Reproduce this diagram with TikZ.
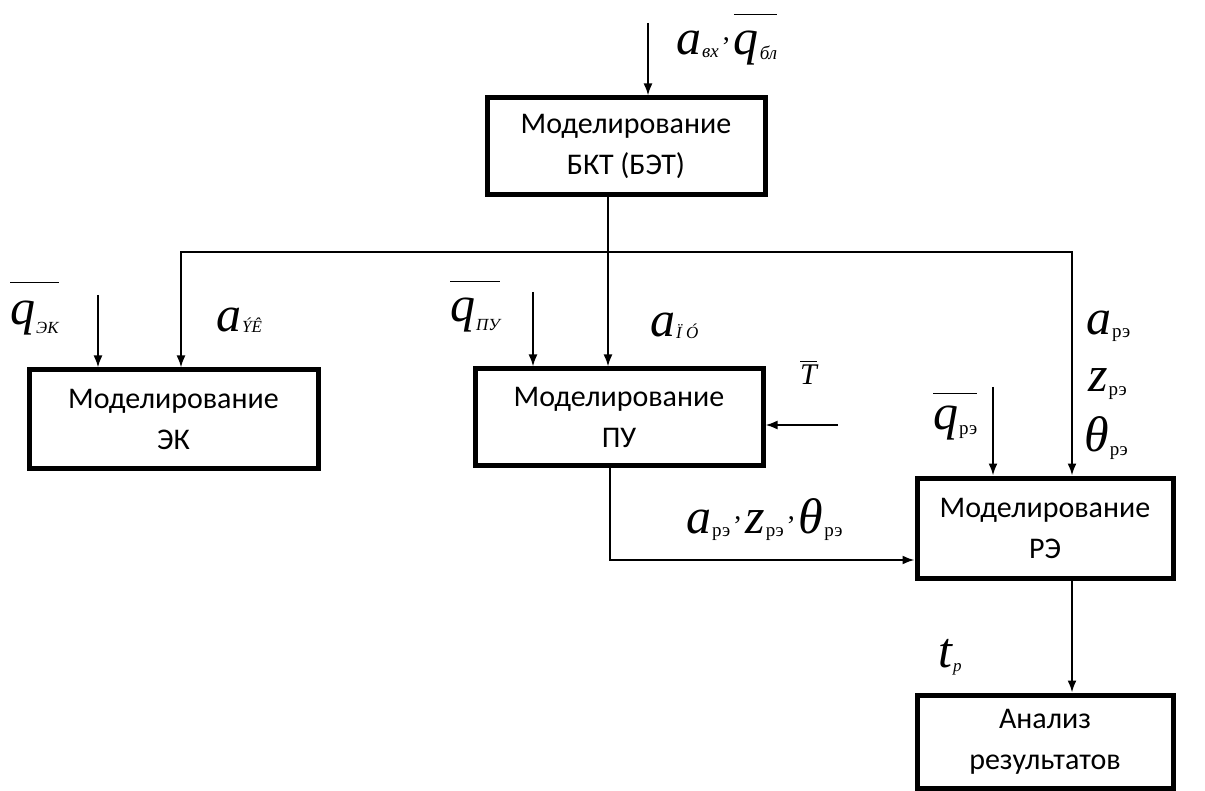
\documentclass[tikz,border=0pt]{standalone}
\usepackage{fontspec}
\setmainfont{Carlito}
\newfontfamily\tnr{Liberation Serif}
\usetikzlibrary{arrows.meta,calc}
\newcommand\mybar[2]{\setbox0=\hbox{#2}\rlap{\raisebox{#1}{\rule{\wd0}{1.1pt}}}\box0}
\newcommand\Mn[1]{{\fontsize{50}{50}\selectfont\tnr\itshape #1}}
\newcommand\Sb[3]{\hspace{1pt}\raisebox{-#1}{\fontsize{#2}{#2}\selectfont\tnr #3}}
\newcommand\Cm{\hspace{4pt}\raisebox{14pt}{\fontsize{28}{28}\selectfont\tnr ,}\hspace{4pt}}
\tikzset{
  box/.style={draw, line width=5pt, align=center, inner sep=0pt,
    font=\fontsize{30}{41}\selectfont},
  arr/.style={line width=2pt, -{Latex[length=12pt,width=9pt]}},
  ln/.style={line width=2pt},
  lbl/.style={inner sep=0pt, anchor=base west}
}
\begin{document}
\begin{tikzpicture}[x=1pt,y=-1pt]
\useasboundingbox[fill=white] (0,0) rectangle (1205,791);
% boxes
\node[box, minimum width=278pt, minimum height=97pt] (bkt) at (626,146.5) {Моделирование\\БКТ (БЭТ)};
\node[box, minimum width=289pt, minimum height=98pt] (ek) at (173.5,419) {Моделирование\\ЭК};
\node[box, minimum width=288pt, minimum height=96pt] (pu) at (619,417) {Моделирование\\ПУ};
\node[box, minimum width=256pt, minimum height=100pt] (re) at (1045,528) {Моделирование\\РЭ};
\node[box, minimum width=256pt, minimum height=93pt] (an) at (1045,741.5) {Анализ\\результатов};
% coordinates
\coordinate (intop) at (648,23);
\coordinate (j1) at (608,252);
\coordinate (hl) at (181,252);
\coordinate (hr) at (1072,252);
\coordinate (qek) at (98,295);
\coordinate (qpu) at (533,292);
\coordinate (qre) at (993,387);
\coordinate (tin) at (838,425);
\coordinate (pd) at (610,560);
% connectors
\draw[arr] (intop) -- (intop |- bkt.north);
\draw[arr] (j1 |- bkt.south) -- (j1 |- pu.north);
\draw[ln,{Latex[length=12pt,width=9pt]}-{Latex[length=12pt,width=9pt]}] (hl |- ek.north) -- (hl) -- (hr) -- (hr |- re.north);
\draw[arr] (qek) -- (qek |- ek.north);
\draw[arr] (qpu) -- (qpu |- pu.north);
\draw[arr] (qre) -- (qre |- re.north);
\draw[arr] (tin) -- (tin -| pu.east);
\draw[arr] (pd |- pu.south) -- (pd) -- (pd -| re.west);
\draw[arr] (hr |- re.south) -- (hr |- an.north);
% labels
\node[lbl] (lin) at (676,55) {\Mn{a}\Sb{3pt}{19}{\itshape вх}\Cm\mybar{40pt}{\Mn{q}\Sb{5pt}{19}{\itshape бл}}};
\node[lbl] (lqek) at (10,325) {\mybar{42pt}{\Mn{q}\Sb{9pt}{17}{\itshape ЭК}}};
\node[lbl] (laek) at (216,332) {\Mn{a}\Sb{1pt}{17}{\itshape ÝÊ}};
\node[lbl] (lqpu) at (450,322) {\mybar{40pt}{\Mn{q}\Sb{9pt}{17}{\itshape ПУ}}};
\node[lbl] (lapu) at (650,337) {\Mn{a}\Sb{2pt}{17}{\itshape Ï Ó}};
\node[lbl] (lt) at (800,385) {\mybar{23pt}{\fontsize{30}{30}\selectfont\tnr\itshape T}};
\node[lbl] (lar) at (1086,335) {\Mn{a}\Sb{3pt}{19}{рэ}};
\node[lbl] (lzr) at (1088,392) {\Mn{z}\Sb{3pt}{19}{рэ}};
\node[lbl] (lthr) at (1084,452) {\Mn{θ}\Sb{3pt}{19}{рэ}};
\node[lbl] (lqre) at (933,430) {\mybar{36pt}{\Mn{q}\Sb{5pt}{19}{рэ}}};
\node[lbl] (lin2) at (686,533) {\Mn{a}\Sb{3pt}{19}{рэ}\Cm\Mn{z}\Sb{3pt}{19}{рэ}\Cm\Mn{θ}\Sb{3pt}{19}{рэ}};
\node[lbl] (ltp) at (938,667) {\Mn{t}\Sb{4pt}{17}{\itshape р}};
\end{tikzpicture}
\end{document}
